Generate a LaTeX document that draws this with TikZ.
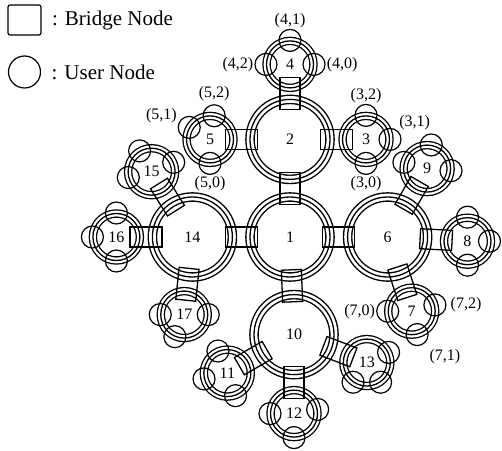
\documentclass[tikz,border=0pt]{standalone}
\usepackage{fontspec}
\setmainfont{Liberation Serif}
\usetikzlibrary{calc,positioning}

\begin{document}
\begin{tikzpicture}[x=1pt,y=1pt,node distance=8pt,
    big ring/.style={circle,draw,line width=9.6pt,minimum size=80pt,inner sep=0pt,
      postaction={draw=white,line width=6.8pt},postaction={draw,line width=1.3pt},
      font=\fontsize{16}{16}\selectfont},
    small ring/.style={circle,draw,line width=8.4pt,minimum size=47pt,inner sep=0pt,
      postaction={draw=white,line width=5.8pt},postaction={draw,line width=1.3pt},
      font=\fontsize{16}{16}\selectfont},
    bridge/.style={rectangle,draw,line width=1.3pt,minimum width=32pt,minimum height=20pt,
      inner sep=0pt,sloped},
    user node/.style={circle,draw,line width=1.2pt,minimum size=22pt,inner sep=0pt},
    every label/.style={font=\fontsize{16}{16}\selectfont,inner sep=1pt}]

	\useasboundingbox (0,0) rectangle (502,450);

	% rings
	\node[big ring] (n1) at (290,213) {1};
	\node[big ring] (n2) [above=of n1] {2};
	\node[big ring] (n6) [right=of n1] {6};
	\node[big ring] (n14) [left=of n1] {14};
	\node[big ring] (n10) [below=of n1,xshift=4pt] {10};

	\node[small ring] (n4) at ($(n2)+(90:75)$) {4};
	\node[small ring] (n3) at ($(n2)+(0:76)$) {3};
	\node[small ring] (n5) at ($(n2)+(180:80)$) {5};
	\node[small ring] (n9) at ($(n6)+(60:79)$) {9};
	\node[small ring] (n8) at ($(n6)+(-3:80)$) {8};
	\node[small ring] (n7) at ($(n6)+(-72:78)$) {7};
	\node[small ring] (n13) at ($(n10)+(-21:78)$) {13};
	\node[small ring] (n12) at ($(n10)+(-90:79)$) {12};
	\node[small ring] (n11) at ($(n10)+(210:77)$) {11};
	\node[small ring] (n17) at ($(n14)+(-96:78)$) {17};
	\node[small ring] (n16) at ($(n14)+(180:76)$) {16};
	\node[small ring] (n15) at ($(n14)+(122:77)$) {15};

	% bridge nodes
	\path
	(n1) -- (n2) node[bridge,midway] (b12) {}
	(n1) -- (n6) node[bridge,midway] (b16) {}
	(n1) -- (n14) node[bridge,midway] (b114) {}
	(n1) -- (n10) node[bridge,midway] (b110) {}
	(n2) -- (n4) node[bridge,midway] (b24) {}
	(n2) -- (n3) node[bridge,midway] (b23) {}
	(n2) -- (n5) node[bridge,midway] (b25) {}
	(n6) -- (n9) node[bridge,midway] (b69) {}
	(n6) -- (n8) node[bridge,midway] (b68) {}
	(n6) -- (n7) node[bridge,midway] (b67) {}
	(n10) -- (n13) node[bridge,midway] (b1013) {}
	(n10) -- (n12) node[bridge,midway] (b1012) {}
	(n10) -- (n11) node[bridge,midway] (b1011) {}
	(n14) -- (n17) node[bridge,midway] (b1417) {}
	(n14) -- (n16) node[bridge,midway] (b1416) {}
	(n14) -- (n15) node[bridge,midway] (b1415) {}
	;

	% user nodes
	\node[user node,label={right:{(4,0)}}] (u40) at ($(n4)+(0:24)$) {};
	\node[user node,label={above:{(4,1)}}] (u41) at ($(n4)+(90:24)$) {};
	\node[user node,label={left:{(4,2)}}] (u42) at ($(n4)+(180:24)$) {};
	\node[user node,label={below:{(3,0)}}] (u30) at ($(n3)+(270:24)$) {};
	\node[user node,label={45:{(3,1)}}] (u31) at ($(n3)+(0:24)$) {};
	\node[user node,label={above:{(3,2)}}] (u32) at ($(n3)+(90:24)$) {};
	\node[user node,label={below:{(5,0)}}] (u50) at ($(n5)+(270:24)$) {};
	\node[user node,label={165:{(5,1)}}] (u51) at ($(n5)+(150:24)$) {};
	\node[user node,label={[label distance=2pt]above:{(5,2)}}] (u52) at ($(n5)+(80:24)$) {};
	\node[user node,label={left:{(7,0)}}] (u70) at ($(n7)+(180:24)$) {};
	\node[user node,label={[label distance=6pt]-50:{(7,1)}}] (u71) at ($(n7)+(-77:24)$) {};
	\node[user node,label={[label distance=3pt]right:{(7,2)}}] (u72) at ($(n7)+(15:24)$) {};

	\node[user node] (u80) at ($(n8)+(270:24)$) {};
	\node[user node] (u81) at ($(n8)+(0:22)$) {};
	\node[user node] (u82) at ($(n8)+(90:24)$) {};
	\node[user node] (u90) at ($(n9)+(-5:24)$) {};
	\node[user node] (u91) at ($(n9)+(80:24)$) {};
	\node[user node] (u92) at ($(n9)+(165:24)$) {};
	\node[user node] (u110) at ($(n11)+(290:24)$) {};
	\node[user node] (u111) at ($(n11)+(194:24)$) {};
	\node[user node] (u112) at ($(n11)+(113:24)$) {};
	\node[user node] (u120) at ($(n12)+(10:24)$) {};
	\node[user node] (u121) at ($(n12)+(270:24)$) {};
	\node[user node] (u122) at ($(n12)+(180:24)$) {};
	\node[user node] (u130) at ($(n13)+(235:24)$) {};
	\node[user node] (u131) at ($(n13)+(305:24)$) {};
	\node[user node] (u132) at ($(n13)+(25:24)$) {};
	\node[user node] (u150) at ($(n15)+(23:24)$) {};
	\node[user node] (u151) at ($(n15)+(120:24)$) {};
	\node[user node] (u152) at ($(n15)+(194:24)$) {};
	\node[user node] (u160) at ($(n16)+(270:24)$) {};
	\node[user node] (u161) at ($(n16)+(180:24)$) {};
	\node[user node] (u162) at ($(n16)+(90:24)$) {};
	\node[user node] (u170) at ($(n17)+(247:24)$) {};
	\node[user node] (u171) at ($(n17)+(180:24)$) {};
	\node[user node] (u172) at ($(n17)+(0:24)$) {};

	% key
	\node[draw,line width=1.2pt,rounded corners=2pt,minimum width=33pt,minimum height=30pt] (bkey) at (24.5,430) {};
	\node[right=7pt of bkey,font=\fontsize{21}{21}\selectfont] (btext) {: Bridge Node};
	\node[draw,circle,line width=1.2pt,minimum size=32pt,inner sep=0pt] (ukey) at (24.5,378) {};
	\node[right=7pt of ukey,font=\fontsize{21}{21}\selectfont] (utext) {: User Node};
\end{tikzpicture}
\end{document}
